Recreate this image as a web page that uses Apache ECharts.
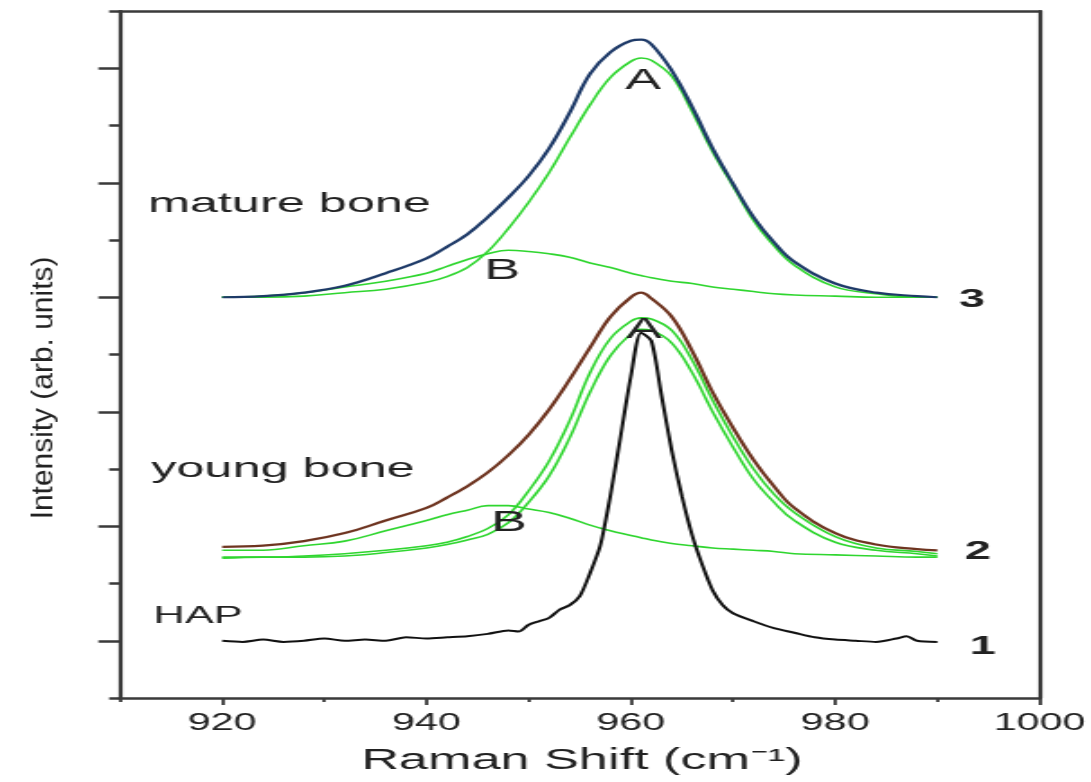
<!DOCTYPE html>
<html><head><meta charset="utf-8">
<script src="https://cdn.jsdelivr.net/npm/echarts@6/dist/echarts.min.js"></script>
<style>
html,body{margin:0;padding:0;background:#fff;overflow:hidden;width:1091px;height:782px;}
#stage{position:absolute;left:0;top:0;width:606.11px;height:782px;transform:scaleX(1.8);transform-origin:0 0;}
</style></head><body><div id="stage"></div>
<script>
// ---- data ----
const boneShift  = [920,924,928,932,936,940,942,944,946,948,950,952,954,956,958,960,961,962,964,966,968,970,972,974,976,980,984,988,990];
const matureData = [4.00,4.01,4.04,4.10,4.21,4.34,4.44,4.55,4.70,4.87,5.06,5.30,5.61,5.95,6.14,6.24,6.25,6.21,5.98,5.66,5.30,4.99,4.70,4.48,4.31,4.12,4.04,4.01,4.00];
const matureA    = [4.00,4.00,4.01,4.04,4.07,4.13,4.18,4.26,4.40,4.60,4.83,5.09,5.39,5.68,5.92,6.06,6.09,6.07,5.93,5.62,5.27,4.97,4.67,4.45,4.28,4.09,4.03,4.00,4.00];
const matureB    = [4.00,4.01,4.04,4.09,4.14,4.21,4.27,4.33,4.38,4.41,4.40,4.38,4.35,4.30,4.26,4.21,4.19,4.17,4.14,4.12,4.09,4.07,4.05,4.03,4.02,4.01,4.00,4.00,4.00];
const youngData  = [1.82,1.83,1.87,1.94,2.05,2.16,2.25,2.35,2.47,2.62,2.80,3.02,3.28,3.56,3.83,4.00,4.04,3.99,3.83,3.53,3.17,2.86,2.58,2.35,2.16,1.94,1.84,1.80,1.79];
const youngA1    = [1.73,1.73,1.74,1.76,1.79,1.83,1.86,1.91,1.98,2.10,2.31,2.57,2.92,3.34,3.64,3.79,3.82,3.81,3.71,3.45,3.10,2.78,2.50,2.28,2.12,1.91,1.81,1.78,1.76];
const youngA2    = [1.72,1.73,1.73,1.74,1.77,1.81,1.84,1.88,1.93,2.03,2.21,2.44,2.77,3.17,3.49,3.68,3.72,3.71,3.60,3.34,3.00,2.69,2.41,2.21,2.05,1.86,1.79,1.76,1.74];
const youngB     = [1.79,1.79,1.83,1.87,1.96,2.05,2.10,2.14,2.18,2.18,2.15,2.12,2.07,2.01,1.96,1.92,1.90,1.88,1.85,1.83,1.81,1.80,1.79,1.78,1.76,1.75,1.74,1.73,1.73];
const hapShift  = [920,922,924,926,928,930,932,934,936,938,940,942,944,946,948,949,950,951,952,953,954,955,956,957,958,959,960,961,962,963,964,965,966,967,968,969,970,972,974,976,978,980,982,984,986,987,988,990];
const hapValues = [1.00,0.99,1.01,0.99,1.00,1.02,1.00,1.01,1.00,1.03,1.02,1.03,1.04,1.06,1.09,1.08,1.14,1.17,1.20,1.27,1.31,1.39,1.59,1.83,2.27,2.79,3.31,3.69,3.62,3.14,2.66,2.26,1.92,1.66,1.44,1.31,1.24,1.17,1.11,1.07,1.03,1.01,1.00,0.99,1.02,1.04,1.00,0.99];
const xMajorTicks = [920,940,960,980,1000];
const xMinorTicks = [910,930,950,970,990];
const yMajorTicks = [1,2,3,4,5,6];
const yMinorTicks = [0.5,1.5,2.5,3.5,4.5,5.5,6.5];

// ---- rendering ----
const STRETCH = 1.8;          // the reference is horizontally stretched
const W = 1091 / STRETCH;
const FONT = "'Liberation Sans', Arial, sans-serif";
const GREEN = '#2fd62f';
const AX = '#3a3a3a';
const TXT = '#222';

function pairs(xs, ys) { return xs.map((x, i) => [x, ys[i]]); }
function line(name, xs, ys, color, width, smooth, z) {
  return { name, type: 'line', data: pairs(xs, ys), showSymbol: false, smooth: smooth,
    lineStyle: { color, width }, itemStyle: { color }, z: z, animation: false, silent: true };
}

const chart = echarts.init(document.getElementById('stage'), null, { renderer: 'canvas', width: W, height: 782 });

const grid = { left: 120 / STRETCH, right: W - 1040 / STRETCH, top: 11, bottom: 84 };

const baseX = { type: 'value', min: 910, max: 1000, interval: 10, splitLine: { show: false } };
const baseY = { type: 'value', min: 0.5, max: 6.5, interval: 0.5, splitLine: { show: false } };

const option = {
  animation: false,
  backgroundColor: '#fff',
  grid,
  xAxis: [
    Object.assign({}, baseX, {
      position: 'bottom',
      axisLine: { show: true, onZero: false, lineStyle: { color: AX, width: 2.5 } },
      axisTick: { show: true, inside: false, length: 7, customValues: xMajorTicks, lineStyle: { color: AX, width: 1.8 } },
      axisLabel: { show: true, customValues: xMajorTicks, formatter: v => String(v), margin: 14, fontFamily: FONT, fontSize: 23, color: TXT }
    }),
    Object.assign({}, baseX, {
      position: 'bottom',
      axisLine: { show: false, onZero: false },
      axisTick: { show: true, inside: false, length: 4, customValues: xMinorTicks, lineStyle: { color: AX, width: 1.8 } },
      axisLabel: { show: false }
    }),
    Object.assign({}, baseX, {
      position: 'top',
      axisLine: { show: true, onZero: false, lineStyle: { color: AX, width: 2.5 } },
      axisTick: { show: false }, axisLabel: { show: false }
    })
  ],
  yAxis: [
    Object.assign({}, baseY, {
      position: 'left',
      axisLine: { show: true, onZero: false, lineStyle: { color: AX, width: 2.2 } },
      axisTick: { show: true, inside: false, length: 12, customValues: yMajorTicks, lineStyle: { color: AX, width: 2.5 } },
      axisLabel: { show: false }
    }),
    Object.assign({}, baseY, {
      position: 'left',
      axisLine: { show: false, onZero: false },
      axisTick: { show: true, inside: false, length: 6, customValues: yMinorTicks, lineStyle: { color: AX, width: 2.5 } },
      axisLabel: { show: false }
    }),
    Object.assign({}, baseY, {
      position: 'right',
      axisLine: { show: true, onZero: false, lineStyle: { color: AX, width: 2.2 } },
      axisTick: { show: false }, axisLabel: { show: false }
    })
  ],
  series: [
    line('mature B', boneShift, matureB, GREEN, 1.6, 0.4, 2),
    line('mature A', boneShift, matureA, GREEN, 1.6, 0.4, 2),
    line('mature bone', boneShift, matureData, '#1e3a68', 2.2, 0.4, 3),
    line('young B', boneShift, youngB, GREEN, 1.6, 0.4, 2),
    line('young A (inner)', boneShift, youngA2, GREEN, 1.6, 0.4, 2),
    line('young A (outer)', boneShift, youngA1, GREEN, 1.6, 0.4, 2),
    line('young bone', boneShift, youngData, '#6e3420', 2.2, 0.4, 3),
    line('HAP', hapShift, hapValues, '#111111', 2.0, 0.25, 4)
  ],
  graphic: [
    { type: 'text', z: 100, x: 160.8, y: 204, style: { text: 'mature bone', font: '28px ' + FONT, fill: TXT, align: 'center', verticalAlign: 'middle' } },
    { type: 'text', z: 100, x: 157.2, y: 469, style: { text: 'young bone', font: '28px ' + FONT, fill: TXT, align: 'center', verticalAlign: 'middle' } },
    { type: 'text', z: 100, x: 110, y: 616, style: { text: 'HAP', font: '24px ' + FONT, fill: TXT, align: 'center', verticalAlign: 'middle' } },
    { type: 'text', z: 100, x: 357.2, y: 81, style: { text: 'A', font: '30px ' + FONT, fill: TXT, align: 'center', verticalAlign: 'middle' } },
    { type: 'text', z: 100, x: 357.8, y: 330, style: { text: 'A', font: '30px ' + FONT, fill: TXT, align: 'center', verticalAlign: 'middle' } },
    { type: 'text', z: 100, x: 278.9, y: 271, style: { text: 'B', font: '30px ' + FONT, fill: TXT, align: 'center', verticalAlign: 'middle' } },
    { type: 'text', z: 100, x: 282.8, y: 523, style: { text: 'B', font: '30px ' + FONT, fill: TXT, align: 'center', verticalAlign: 'middle' } },
    { type: 'text', z: 100, x: 540, y: 300, style: { text: '3', font: 'bold 26px ' + FONT, fill: TXT, align: 'center', verticalAlign: 'middle' } },
    { type: 'text', z: 100, x: 543.3, y: 552, style: { text: '2', font: 'bold 26px ' + FONT, fill: TXT, align: 'center', verticalAlign: 'middle' } },
    { type: 'text', z: 100, x: 546.1, y: 647, style: { text: '1', font: 'bold 26px ' + FONT, fill: TXT, align: 'center', verticalAlign: 'middle' } },
    { type: 'text', z: 100, x: 323.3, y: 761, style: { text: 'Raman Shift (cm\u207B\u00B9)', font: '29px ' + FONT, fill: TXT, align: 'center', verticalAlign: 'middle' } },
    { type: 'text', z: 100, x: 24.4, y: 388, rotation: Math.PI / 2, scaleX: 1.76, style: { text: 'Intensity (arb. units)', font: '17px ' + FONT, fill: TXT, align: 'center', verticalAlign: 'middle' } }
  ]
};
chart.setOption(option);
</script></body></html>
